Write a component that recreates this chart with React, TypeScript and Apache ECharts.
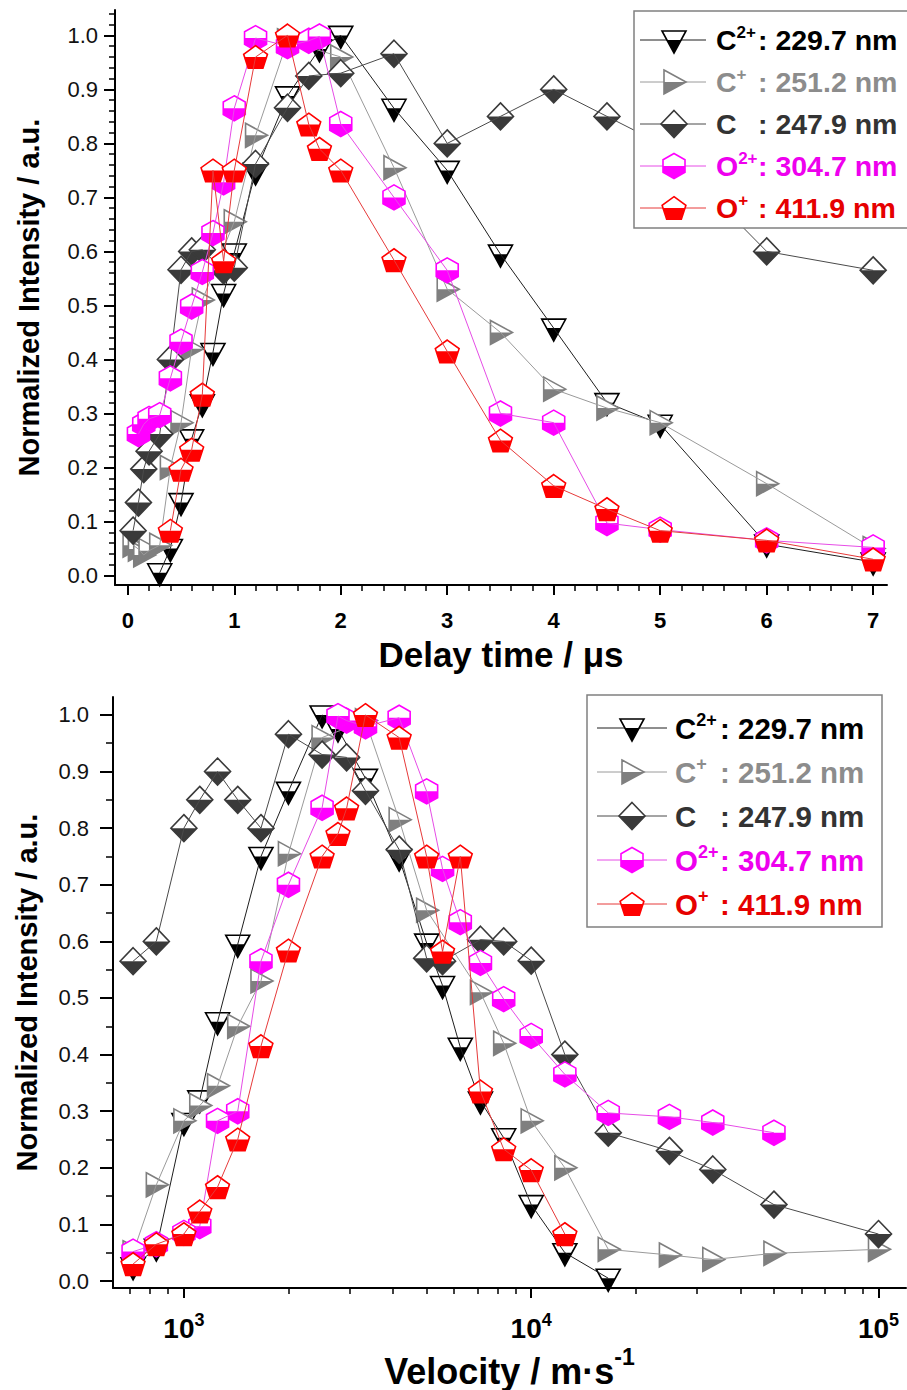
import React, { useEffect, useRef } from 'react';
import * as echarts from 'echarts';

const FONT = '"Liberation Sans", Arial, Helvetica, sans-serif';

// ---------- Data (delay time in µs, velocity in m/s, normalized intensity) ----------
// C2+ : 229.7 nm
const tC2 = [0.3, 0.4, 0.5, 0.6, 0.7, 0.8, 0.9, 1.0, 1.2, 1.5, 1.8, 2.0, 2.5, 3.0, 3.5, 4.0, 4.5, 5.0, 6.0, 7.0];
const vC2 = [16667, 12500, 10000, 8333, 7143, 6250, 5556, 5000, 4167, 3333, 2778, 2500, 2000, 1667, 1429, 1250, 1111, 1000, 833, 714];
const iC2 = [0.005, 0.05, 0.135, 0.253, 0.318, 0.413, 0.522, 0.597, 0.747, 0.888, 0.975, 1.0, 0.865, 0.75, 0.595, 0.458, 0.32, 0.28, 0.058, 0.025];
// C+ : 251.2 nm
const tC1 = [0.05, 0.1, 0.15, 0.2, 0.3, 0.4, 0.5, 0.6, 0.7, 1.0, 1.2, 1.5, 2.0, 2.5, 3.0, 3.5, 4.0, 4.5, 5.0, 6.0, 7.0];
const vC1 = [100000, 50000, 33333, 25000, 16667, 12500, 10000, 8333, 7143, 5000, 4167, 3333, 2500, 2000, 1667, 1429, 1250, 1111, 1000, 833, 714];
const iC1 = [0.056, 0.049, 0.038, 0.046, 0.056, 0.2, 0.283, 0.42, 0.51, 0.655, 0.815, 0.99, 0.96, 0.755, 0.53, 0.45, 0.345, 0.31, 0.283, 0.17, 0.05];
// C : 247.9 nm
const tC0 = [0.05, 0.1, 0.15, 0.2, 0.3, 0.4, 0.5, 0.6, 0.7, 0.9, 1.0, 1.2, 1.5, 1.7, 2.0, 2.5, 3.0, 3.5, 4.0, 4.5, 5.0, 6.0, 7.0];
const vC0 = [100000, 50000, 33333, 25000, 16667, 12500, 10000, 8333, 7143, 5556, 5000, 4167, 3333, 2941, 2500, 2000, 1667, 1429, 1250, 1111, 1000, 833, 714];
const iC0 = [0.083, 0.135, 0.197, 0.23, 0.262, 0.4, 0.566, 0.6, 0.603, 0.565, 0.57, 0.762, 0.866, 0.925, 0.93, 0.966, 0.8, 0.85, 0.9, 0.85, 0.8, 0.6, 0.565];
// O2+ : 304.7 nm
const tO2 = [0.1, 0.15, 0.2, 0.3, 0.4, 0.5, 0.6, 0.7, 0.8, 0.9, 1.0, 1.2, 1.5, 1.7, 1.8, 2.0, 2.5, 3.0, 3.5, 4.0, 4.5, 5.0, 6.0, 7.0];
const vO2 = [50000, 33333, 25000, 16667, 12500, 10000, 8333, 7143, 6250, 5556, 5000, 4167, 3333, 2941, 2778, 2500, 2000, 1667, 1429, 1250, 1111, 1000, 833, 714];
const iO2 = [0.262, 0.28, 0.29, 0.297, 0.365, 0.433, 0.498, 0.562, 0.634, 0.728, 0.865, 0.995, 0.98, 0.99, 0.998, 0.836, 0.7, 0.565, 0.3, 0.283, 0.097, 0.085, 0.065, 0.052];
// O+ : 411.9 nm
const tO1 = [0.4, 0.5, 0.6, 0.7, 0.8, 0.9, 1.0, 1.2, 1.5, 1.7, 1.8, 2.0, 2.5, 3.0, 3.5, 4.0, 4.5, 5.0, 6.0, 7.0];
const vO1 = [12500, 10000, 8333, 7143, 6250, 5556, 5000, 4167, 3333, 2941, 2778, 2500, 2000, 1667, 1429, 1250, 1111, 1000, 833, 714];
const iO1 = [0.083, 0.196, 0.233, 0.335, 0.75, 0.582, 0.75, 0.96, 1.0, 0.835, 0.79, 0.75, 0.584, 0.415, 0.25, 0.166, 0.123, 0.083, 0.065, 0.03];

// legend texts
const speciesBase = ['C', 'C', 'C', 'O', 'O'];
const speciesCharge = ['2+', '+', '', '2+', '+'];
const wavelengths = ['229.7 nm', '251.2 nm', '247.9 nm', '304.7 nm', '411.9 nm'];

// tick label values
const delayTicks = [0, 1, 2, 3, 4, 5, 6, 7];
const intensityTicks = [0, 0.1, 0.2, 0.3, 0.4, 0.5, 0.6, 0.7, 0.8, 0.9, 1.0];
const velocityTicks = [1000, 10000, 100000];
const velocityMinorTicks = [700, 800, 900, 2000, 3000, 4000, 5000, 6000, 7000, 8000, 9000,
  20000, 30000, 40000, 50000, 60000, 70000, 80000, 90000];

const delayMinor: number[] = [];
for (let i = 1; i <= 35; i++) if (i % 5) delayMinor.push(+(i * 0.2).toFixed(2));
const intensityMinorTop: number[] = [];
for (let i = 1; i <= 52; i++) if (i % 5) intensityMinorTop.push(+(i * 0.02).toFixed(2));
const intensityMinorBot: number[] = [];
for (let i = 0; i < 10; i++) intensityMinorBot.push(+(0.05 + i * 0.1).toFixed(2));

// ---------- Styles ----------
const markerColors = ['#000000', '#7f7f7f', '#3a3a3a', '#ff00ff', '#ff0000'];
const lineColors = ['#1e1e1e', '#9a9a9a', '#4a4a4a', '#e64ce6', '#e63a3a'];
const textColors = ['#000000', '#8c8c8c', '#333333', '#ee00ee', '#e60000'];

type Shape = { full: number[][]; half: number[][] };
const SHAPES: Shape[] = [
  { full: [[-12, -9], [12, -9], [0, 13]], half: [[-7.1, 0], [7.1, 0], [0, 13]] },
  { full: [[-10, -12], [12, 0], [-10, 12]], half: [[-10, 0], [12, 0], [-10, 12]] },
  { full: [[0, -13.5], [13, 0], [0, 13.5], [-13, 0]], half: [[-13, 0], [13, 0], [0, 13.5]] },
  { full: [[0, -12.5], [11, -6.3], [11, 6.3], [0, 12.5], [-11, 6.3], [-11, -6.3]], half: [[-11, 0], [11, 0], [11, 6.3], [0, 12.5], [-11, 6.3]] },
  { full: [[0, -11.3], [11.9, -2.7], [7.35, 11.3], [-7.35, 11.3], [-11.9, -2.7]], half: [[-11.03, 0], [11.03, 0], [7.35, 11.3], [-7.35, 11.3]] },
];

function markerChildren(k: number, z?: number) {
  const s = SHAPES[k];
  const c = markerColors[k];
  const zz = z === undefined ? {} : { z };
  return [
    { type: 'polygon', ...zz, shape: { points: s.full }, style: { fill: '#ffffff', stroke: 'none' } },
    { type: 'polygon', ...zz, shape: { points: s.half }, style: { fill: c, stroke: 'none' } },
    { type: 'polygon', ...zz, shape: { points: s.full }, style: { fill: 'none', stroke: c, lineWidth: 1.6 } },
  ];
}

const TOP_X = [tC2, tC1, tC0, tO2, tO1];
const BOT_X = [vC2, vC1, vC0, vO2, vO1];
const INT = [iC2, iC1, iC0, iO2, iO1];

function buildSeries(xs: number[][], xIdx: number, yIdx: number) {
  const out: any[] = [];
  xs.forEach((xv, k) => {
    const data = xv.map((x, i) => [x, INT[k][i]]);
    out.push({
      type: 'line', xAxisIndex: xIdx, yAxisIndex: yIdx, data, symbol: 'none', silent: true,
      lineStyle: { color: lineColors[k], width: 1 }, z: 2 + k,
    });
    out.push({
      type: 'custom', xAxisIndex: xIdx, yAxisIndex: yIdx, data, clip: false, silent: true, z: 2 + k,
      encode: { x: 0, y: 1 },
      renderItem: (_p: any, api: any) => {
        const pt = api.coord([api.value(0), api.value(1)]);
        return { type: 'group', x: pt[0], y: pt[1], children: markerChildren(k) };
      },
    });
  });
  return out;
}

function legendElems(box: number[], lx1: number, lx2: number, sx: number, tx: number, cx: number, y0: number, dy: number, fs: number) {
  const els: any[] = [];
  const Z = 50;
  els.push({
    type: 'rect', z: Z, shape: { x: box[0], y: box[1], width: box[2], height: box[3] },
    style: { fill: '#ffffff', stroke: '#808080', lineWidth: 1.5 },
  });
  for (let k = 0; k < 5; k++) {
    const y = y0 + dy * k;
    els.push({ type: 'line', z: Z + 1, shape: { x1: lx1, y1: y, x2: lx2, y2: y }, style: { stroke: lineColors[k], lineWidth: 1 } });
    els.push({ type: 'group', z: Z + 2, x: sx, y, children: markerChildren(k, Z + 2) });
    const sp = speciesCharge[k] ? `{m|${speciesBase[k]}}{s|${speciesCharge[k]}}` : `{m|${speciesBase[k]}}`;
    els.push({
      type: 'text', z: Z + 3, x: tx, y,
      style: {
        text: sp, fill: textColors[k], align: 'left', verticalAlign: 'middle',
        rich: {
          m: { fontSize: fs, fontWeight: 'bold', fontFamily: FONT, fill: textColors[k], lineHeight: fs + 4 },
          s: { fontSize: Math.round(fs * 0.6), fontWeight: 'bold', fontFamily: FONT, fill: textColors[k], verticalAlign: 'top', lineHeight: Math.round(fs * 0.6) },
        },
      },
    });
    els.push({
      type: 'text', z: Z + 3, x: cx, y,
      style: {
        text: ': ' + wavelengths[k], fill: textColors[k], align: 'left', verticalAlign: 'middle',
        fontSize: fs, fontWeight: 'bold', fontFamily: FONT,
      },
    });
  }
  return els;
}

const tickLine = { color: '#000', width: 2 };
const minorLine = { color: '#000', width: 1.5 };

function buildOption() {
  return {
    animation: false,
    backgroundColor: '#ffffff',
    textStyle: { fontFamily: FONT },
    grid: [
      { left: 115, top: 10, width: 772, height: 575 },
      { left: 113, top: 697, width: 793, height: 593 },
    ],
    xAxis: [
      {
        gridIndex: 0, type: 'value', position: 'bottom', min: -0.12, max: 7.13,
        axisLine: { onZero: false, lineStyle: { color: '#000', width: 2 } },
        axisTick: { customValues: delayTicks, length: 10, lineStyle: tickLine },
        axisLabel: { customValues: delayTicks, fontSize: 22, fontWeight: 'bold', color: '#000', margin: 24, fontFamily: FONT },
        splitLine: { show: false },
        name: 'Delay time / μs', nameLocation: 'middle', nameGap: 52,
        nameTextStyle: { fontSize: 35, fontWeight: 'bold', color: '#000', fontFamily: FONT },
      },
      {
        gridIndex: 0, type: 'value', position: 'bottom', min: -0.12, max: 7.13,
        axisLine: { show: false, onZero: false },
        axisTick: { customValues: delayMinor, length: 6, lineStyle: minorLine },
        axisLabel: { show: false }, splitLine: { show: false },
      },
      {
        gridIndex: 1, type: 'log', logBase: 10, position: 'bottom', min: 625, max: 120000,
        axisLine: { onZero: false, lineStyle: { color: '#000', width: 2 } },
        axisTick: { customValues: velocityTicks, length: 10, lineStyle: tickLine },
        axisLabel: {
          customValues: velocityTicks, margin: 23, color: '#000',
          formatter: (v: number) => `{b|10}{s|${Math.round(Math.log10(v))}}`,
          rich: {
            b: { fontSize: 28, fontWeight: 'bold', fontFamily: FONT, color: '#000', lineHeight: 34 },
            s: { fontSize: 18, fontWeight: 'bold', fontFamily: FONT, color: '#000', verticalAlign: 'top', lineHeight: 18 },
          },
        },
        splitLine: { show: false },
        name: '{t|Velocity / m·s}{s|-1}', nameLocation: 'middle', nameGap: 57,
        nameTextStyle: {
          rich: {
            t: { fontSize: 36, fontWeight: 'bold', fontFamily: FONT, color: '#000', lineHeight: 52 },
            s: { fontSize: 23, fontWeight: 'bold', fontFamily: FONT, color: '#000', verticalAlign: 'top', lineHeight: 23 },
          },
        },
      },
      {
        gridIndex: 1, type: 'log', logBase: 10, position: 'bottom', min: 625, max: 120000,
        axisLine: { show: false, onZero: false },
        axisTick: { customValues: velocityMinorTicks, length: 6, lineStyle: minorLine },
        axisLabel: { show: false }, splitLine: { show: false },
      },
    ],
    yAxis: [
      {
        gridIndex: 0, type: 'value', position: 'left', min: -0.0176, max: 1.047,
        axisLine: { onZero: false, lineStyle: { color: '#000', width: 2 } },
        axisTick: { customValues: intensityTicks, length: 11, lineStyle: tickLine },
        axisLabel: { customValues: intensityTicks, formatter: (v: number) => v.toFixed(1), fontSize: 22, color: '#111', margin: 17, fontFamily: FONT },
        splitLine: { show: false },
        name: 'Normalized Intensity / a.u.', nameLocation: 'middle', nameGap: 72,
        nameTextStyle: { fontSize: 29, fontWeight: 'bold', color: '#000', fontFamily: FONT },
      },
      {
        gridIndex: 0, type: 'value', position: 'left', min: -0.0176, max: 1.047,
        axisLine: { show: false, onZero: false },
        axisTick: { customValues: intensityMinorTop, length: 6, lineStyle: minorLine },
        axisLabel: { show: false }, splitLine: { show: false },
      },
      {
        gridIndex: 1, type: 'value', position: 'left', min: -0.0123, max: 1.0317,
        axisLine: { onZero: false, lineStyle: { color: '#000', width: 2 } },
        axisTick: { customValues: intensityTicks, length: 13, lineStyle: tickLine },
        axisLabel: { customValues: intensityTicks, formatter: (v: number) => v.toFixed(1), fontSize: 22, color: '#111', margin: 24, fontFamily: FONT },
        splitLine: { show: false },
        name: 'Normalized Intensity / a.u.', nameLocation: 'middle', nameGap: 72,
        nameTextStyle: { fontSize: 29, fontWeight: 'bold', color: '#000', fontFamily: FONT },
      },
      {
        gridIndex: 1, type: 'value', position: 'left', min: -0.0123, max: 1.0317,
        axisLine: { show: false, onZero: false },
        axisTick: { customValues: intensityMinorBot, length: 7, lineStyle: minorLine },
        axisLabel: { show: false }, splitLine: { show: false },
      },
    ],
    series: [...buildSeries(TOP_X, 0, 0), ...buildSeries(BOT_X, 2, 2)],
    graphic: {
      elements: [
        ...legendElems([634, 11, 290, 217], 640, 706, 674, 716, 758, 40, 42, 28.5),
        ...legendElems([587, 695, 295, 232], 597, 667, 632, 675, 720, 728, 44, 29.5),
      ],
    },
  };
}

export default function App() {
  const ref = useRef<HTMLDivElement>(null);
  useEffect(() => {
    if (!ref.current) return;
    const chart = echarts.init(ref.current, undefined, { renderer: 'svg' });
    chart.setOption(buildOption() as any);
    return () => chart.dispose();
  }, []);
  return (
    <div
      ref={ref}
      style={{ position: 'absolute', left: 0, top: 0, width: 907, height: 1390, background: '#fff' }}
    />
  );
}
